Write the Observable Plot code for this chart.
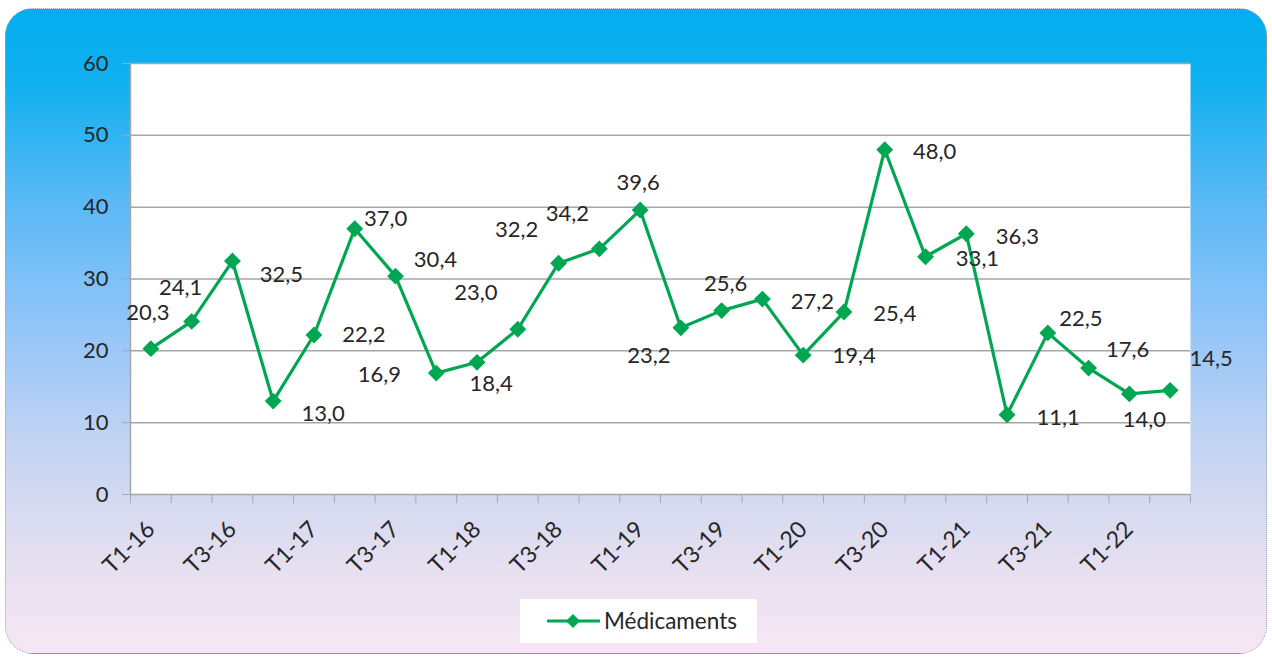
<!DOCTYPE html>
<html>
<head>
<meta charset="utf-8">
<script src="https://cdn.jsdelivr.net/npm/d3@7"></script>
<script src="https://cdn.jsdelivr.net/npm/@observablehq/plot@0.6"></script>
<style>
  html, body { margin: 0; padding: 0; background: #ffffff; }
  #wrap { position: relative; width: 1272px; height: 657px; overflow: hidden; font-family: Lato, "Noto Sans", sans-serif; }
  #bg { position: absolute; left: 5px; top: 8px; width: 1262px; height: 646px; border-radius: 28px;
        border: 1px dotted #9aa6b4; box-sizing: border-box;
        background: linear-gradient(to bottom, #00aeef 0%, #12b0f0 12%, #5ab9f5 30%, #8fc4f8 48%, #c4d4f2 68%, #e2def0 84%, #f8e7f4 100%); }
  #chart { position: absolute; left: 0; top: 0; }
  #legend { position: absolute; left: 520px; top: 599px; width: 237px; height: 44px; background: #ffffff; }
  #legend svg { position: absolute; left: 0; top: 0; }
  #legend span { position: absolute; left: 84px; top: 8px; font-size: 22.5px; color: #262626; font-family: Lato, "Noto Sans", sans-serif; }
</style>
</head>
<body>
<div id="wrap">
  <div id="bg"></div>
  <div id="chart"></div>
  <div id="legend">
    <svg width="84" height="44"><line x1="27" x2="80" y1="22" y2="22" stroke="#00a651" stroke-width="3"/><path d="M53,15 L60,22 L53,29 L46,22 Z" fill="#00a651"/></svg>
    <span>Médicaments</span>
  </div>
</div>
<script>
const categories = ["T1-16","T2-16","T3-16","T4-16","T1-17","T2-17","T3-17","T4-17","T1-18","T2-18","T3-18","T4-18","T1-19","T2-19","T3-19","T4-19","T1-20","T2-20","T3-20","T4-20","T1-21","T2-21","T3-21","T4-21","T1-22","T2-22"];
const values = [20.3,24.1,32.5,13.0,22.2,37.0,30.4,16.9,18.4,23.0,32.2,34.2,39.6,23.2,25.6,27.2,19.4,25.4,48.0,33.1,36.3,11.1,22.5,17.6,14.0,14.5];
const labelTexts = values.map(v => v.toFixed(1).replace(".", ","));
// label placement offsets (px) relative to each point, as in the original
const labelDx = [-3,-11,49,50,50,31,40,-57,14,-42,-42,-32,-2,-32,4,50,51,51,50,52,51,51,33,39,15,41];
const labelDy = [-36,-33,14,13,0,-10,-16,2,22,-36,-33,-35,-27,28,-27,3,1,2,2,2,3,3,-14,-18,26,-31];
const yTicks = [0,10,20,30,40,50,60];
const seriesName = "Médicaments";

const green = "#00a651";
const data = values.map((v, i) => ({i, v, label: labelTexts[i]}));
const boundaries = d3.range(categories.length + 1).map(k => k - 0.5);
const labelIdx = d3.range(0, categories.length, 2);

const chart = Plot.plot({
  width: 1272,
  height: 657,
  marginLeft: 130,
  marginRight: 82,
  marginTop: 63,
  marginBottom: 163,
  style: {background: "transparent", fontFamily: "Lato, 'Noto Sans', sans-serif", color: "#262626", overflow: "visible"},
  x: {type: "linear", domain: [-0.5, categories.length - 0.5]},
  y: {domain: [0, 60]},
  marks: [
    Plot.frame({fill: "white", stroke: "none"}),
    Plot.gridY(yTicks.filter(t => t > 0), {stroke: "#a6a6a6", strokeOpacity: 1, strokeWidth: 1.5}),
    Plot.ruleX([-0.5], {y1: 0, y2: 60, stroke: "#a6a6a6", strokeWidth: 1.5}),
    Plot.ruleY([0], {stroke: "#a6a6a6", strokeWidth: 1.5}),
    Plot.axisY(yTicks, {tickSize: 8, tickPadding: 14, fontSize: 22, stroke: "#a6a6a6", fill: "#262626", label: null}),
    Plot.axisX(boundaries, {tickSize: 9, tickFormat: () => "", stroke: "#a6a6a6", label: null}),
    Plot.axisX(labelIdx, {tickSize: 0, tickPadding: 31, tickRotate: -45, textAnchor: "end", lineAnchor: "middle",
      tickFormat: i => categories[i], fontSize: 23, fill: "#262626", label: null}),
    Plot.line(data, {x: "i", y: "v", stroke: green, strokeWidth: 3.2}),
    Plot.dot(data, {x: "i", y: "v", symbol: "diamond2", r: 7.6, fill: green, stroke: "none"}),
    ...data.map((d, k) => Plot.text([d], {x: "i", y: "v", text: "label", dx: labelDx[k], dy: labelDy[k],
      fontSize: 22, fill: "#262626"}))
  ]
});
document.getElementById("chart").appendChild(chart);
</script>
</body>
</html>
